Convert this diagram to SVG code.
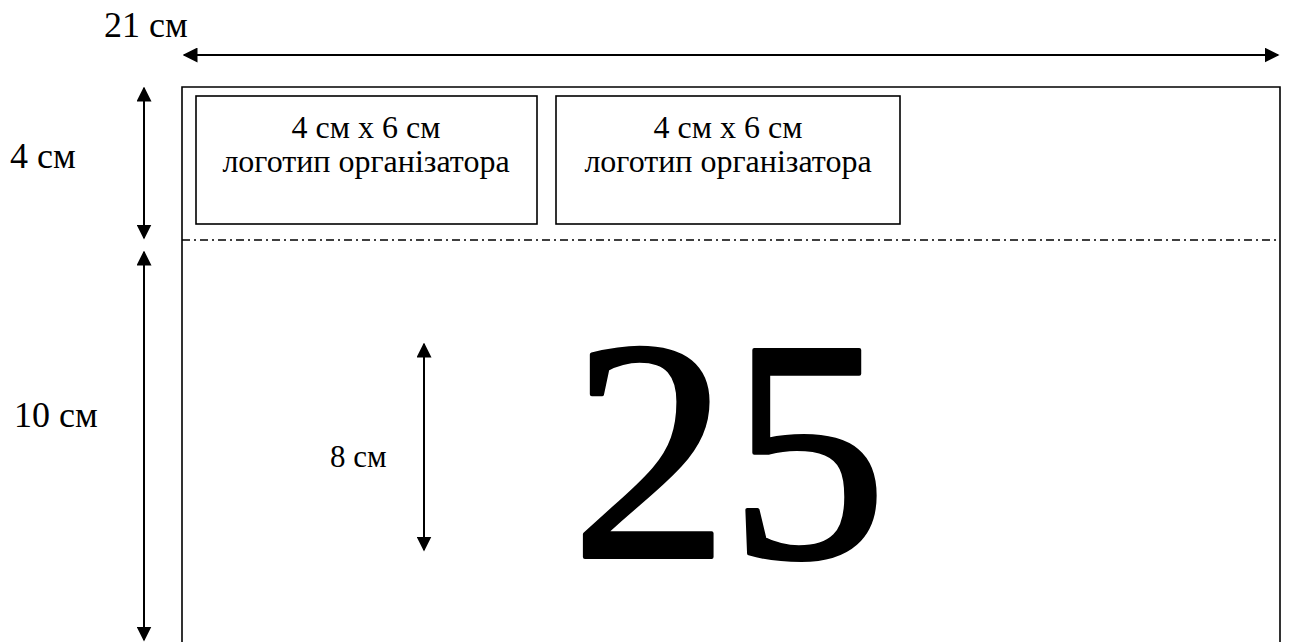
<svg xmlns="http://www.w3.org/2000/svg" width="1291" height="642" viewBox="0 0 1291 642">
<style>
text{font-family:"Liberation Serif","Times New Roman",serif;fill:#000}
.box{fill:none;stroke:#000;stroke-width:1.6}
.dim{stroke:#000;stroke-width:2;fill:none;marker-start:url(#ah);marker-end:url(#ah)}
.lbl{font-size:36px}
.bt{font-size:32px;text-anchor:middle}
</style>
<defs>
<marker id="ah" viewBox="0 0 10 10" refX="9" refY="5" markerWidth="7.5" markerHeight="7.5" orient="auto-start-reverse" markerUnits="strokeWidth">
<path d="M0,0 L10,5 L0,10 Z" fill="#000"/>
</marker>
</defs>
<rect width="1291" height="642" fill="#fff"/>
<g id="page">
<path class="box" d="M182,660 L182,87 L1280,87 L1280,660"/>
<line x1="182" y1="240" x2="1280" y2="240" stroke="#000" stroke-width="1.6" stroke-dasharray="8,4,2,4"/>
</g>
<g id="logo1">
<rect class="box" x="196" y="96" width="341" height="128"/>
<text class="bt" x="366" y="138">4 см х 6 см</text>
<text class="bt" x="366" y="172">логотип організатора</text>
</g>
<g id="logo2">
<rect class="box" x="556" y="96" width="344" height="128"/>
<text class="bt" x="728" y="138">4 см х 6 см</text>
<text class="bt" x="728" y="172">логотип організатора</text>
</g>
<g id="number">
<text x="729" y="557" font-size="316" stroke="#000" stroke-width="4" stroke-linejoin="round" text-anchor="middle">25</text>
</g>
<g id="connectors">
<line class="dim" x1="184" y1="55" x2="1278" y2="55"/>
<line class="dim" x1="144" y1="88" x2="144" y2="238"/>
<line class="dim" x1="144" y1="252" x2="144" y2="640"/>
<line class="dim" x1="424" y1="344" x2="424" y2="550"/>
</g>
<g id="labels">
<text class="lbl" x="104" y="37">21 см</text>
<text class="lbl" x="10" y="168">4 см</text>
<text class="lbl" x="14" y="427">10 см</text>
<text x="330" y="467" font-size="31">8 см</text>
</g>
</svg>
